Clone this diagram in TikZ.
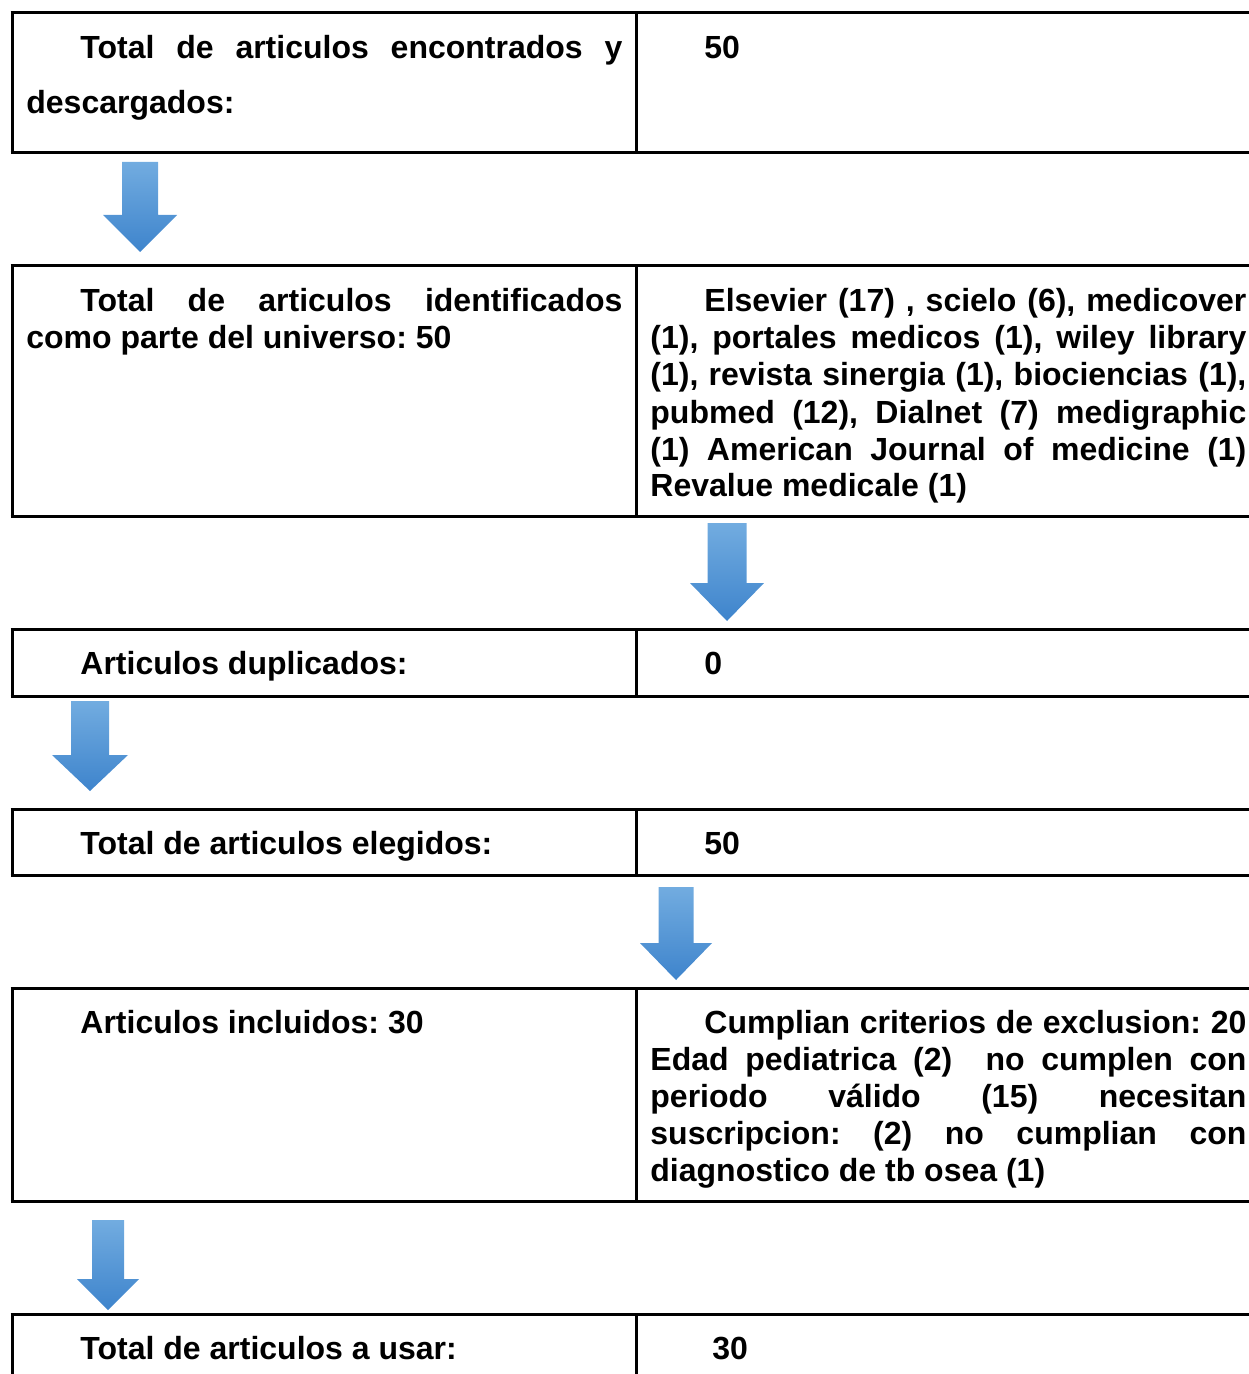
\documentclass[tikz,border=0pt]{standalone}
\usepackage{fontspec}
\setmainfont{Liberation Sans}
\definecolor{arrowtop}{RGB}{114,172,224}
\definecolor{arrowbot}{RGB}{62,132,204}
\newcommand\blockdown[6]{% cx, top, headY, tip, shaftHalf, headHalf
  \shade[arrowfill] (#1-#5,#2) -- (#1+#5,#2) -- (#1+#5,#3) -- (#1+#6,#3) -- (#1,#4) -- (#1-#6,#3) -- (#1-#5,#3) -- cycle;}
\newcommand\cellfont[1]{\bfseries\fontsize{16}{#1}\selectfont\frenchspacing
  \spaceskip=4.45pt plus 6pt minus 1.4pt\relax\hyphenpenalty=10000\relax}
\begin{document}
\begin{tikzpicture}[x=0.5pt,y=-0.5pt,
  rule/.style={line width=1.5pt,black},
  arrowfill/.style={top color=arrowtop,bottom color=arrowbot},
  celltxt/.style={inner sep=0pt,anchor=base west,text width=298pt,align=justify,
     font=\cellfont{18.5}},
  onetxt/.style={inner sep=0pt,anchor=base west,font=\cellfont{18.5}}]
\useasboundingbox (0,0) rectangle (1248,1374);
% table rules
\foreach \ya/\yb in {13/153,266/516,629/696,809/875,988/1201}{
  \draw[rule] (10.5,\ya) -- (1252,\ya);
  \draw[rule] (10.5,\yb) -- (1252,\yb);
  \draw[rule] (12,\ya) -- (12,\yb);
  \draw[rule] (636,\ya) -- (636,\yb);
}
\draw[rule] (10.5,1314) -- (1252,1314);
\draw[rule] (12,1314) -- (12,1380);
\draw[rule] (636,1314) -- (636,1380);
% row 1
\node[celltxt,font=\cellfont{27.5}] (r1l) at (26,59)
  {\hspace*{27pt}Total de articulos encontrados y\linebreak descargados:};
\node[onetxt] (r1r) at (704,59) {50};
% row 2
\node[celltxt] (r2l) at (26,312)
  {\hspace*{27pt}Total de articulos identificados\linebreak como parte del universo: 50};
\node[celltxt] (r2r) at (650,312)
  {\hspace*{27pt}Elsevier (17) , scielo (6), medicover\linebreak
   (1), portales medicos (1), wiley library\linebreak
   (1), revista sinergia (1), biociencias (1),\linebreak
   pubmed (12), Dialnet (7) medigraphic\linebreak
   (1) American Journal of medicine (1)\linebreak
   Revalue medicale (1)};
% row 3
\node[onetxt] (r3l) at (80,674) {Articulos duplicados:};
\node[onetxt] (r3r) at (704,674) {0};
% row 4
\node[onetxt] (r4l) at (80,854) {Total de articulos elegidos:};
\node[onetxt] (r4r) at (704,854) {50};
% row 5
\node[onetxt] (r5l) at (80,1033) {Articulos incluidos: 30};
\node[celltxt] (r5r) at (650,1033)
  {\hspace*{27pt}Cumplian criterios de exclusion: 20\linebreak
   Edad pediatrica (2) \ no cumplen con\linebreak
   periodo v\'alido (15) necesitan\linebreak
   suscripcion: (2) no cumplian con\linebreak
   diagnostico de tb osea (1)};
% row 6
\node[onetxt] (r6l) at (80,1359) {Total de articulos a usar:};
\node[onetxt] (r6r) at (712,1359) {30};
% block arrows
\blockdown{140}{162}{215}{252}{18}{37}
\blockdown{727}{523}{583}{621}{19.5}{37}
\blockdown{90}{701}{755}{791}{19}{38}
\blockdown{676}{887}{943}{980}{17.5}{36}
\blockdown{108}{1220}{1279}{1310}{16}{31}
\end{tikzpicture}
\end{document}
